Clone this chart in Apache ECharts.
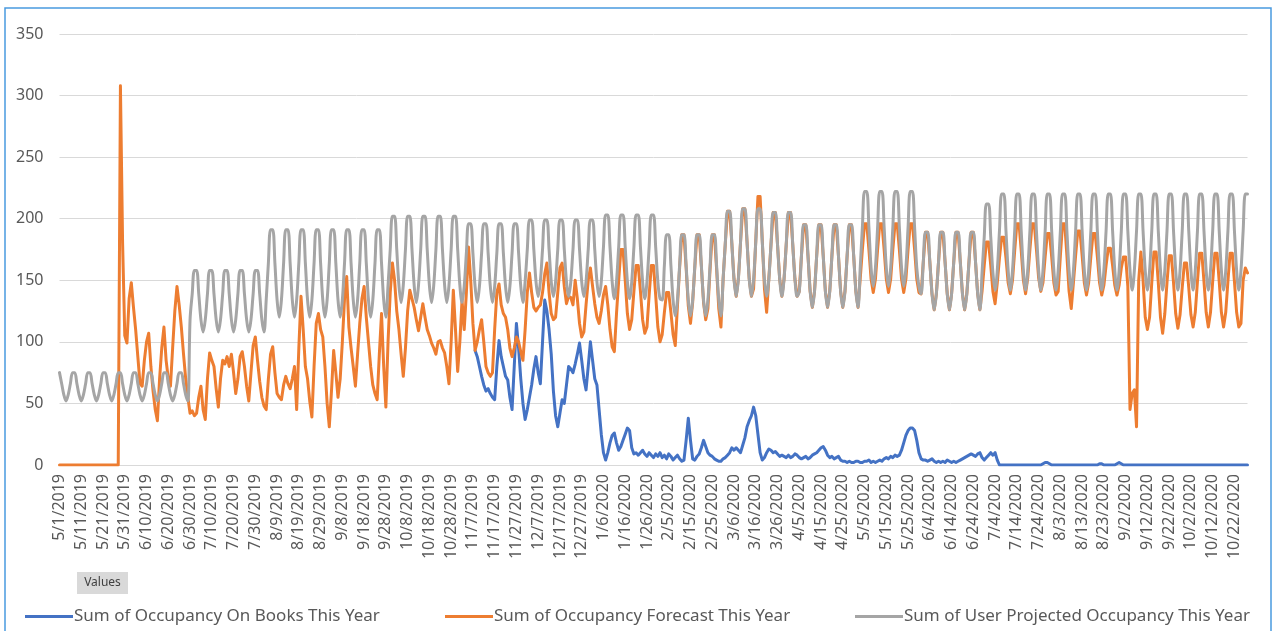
<!DOCTYPE html>
<html>
<head>
<meta charset="utf-8">
<script src="https://cdn.jsdelivr.net/npm/echarts@6/dist/echarts.min.js"></script>
<style>
  html, body { margin: 0; padding: 0; background: #fff; }
  #chart { width: 1276px; height: 631px; }
</style>
</head>
<body>
<div id="chart"></div>
<script>
// daily dates, 5/1/2019 .. 10/28/2020
const firstDay = '2019-05-01';
const dayCount = 547;

// Sum of Occupancy On Books This Year (starts 11/8/2019, index 191)
const booksStart = 191;
const onBooks = [
  93,88,80,72,65,60,62,58,55,53,
  80,101,88,80,72,69,55,45,80,115,
  95,70,50,37,45,55,65,78,88,75,
  66,100,134,125,110,90,60,40,31,42,
  53,50,65,80,78,75,82,90,99,85,
  70,61,80,100,85,70,65,45,25,10,
  4,10,18,24,26,18,12,15,20,25,
  30,28,14,9,10,8,10,12,9,7,
  10,8,6,9,7,10,6,8,5,9,
  7,4,6,8,5,3,4,20,38,20,
  5,4,7,9,14,20,15,10,8,7,
  5,4,3,3,5,6,8,10,14,12,
  14,12,10,16,22,31,36,40,47,40,
  25,10,4,6,10,13,12,10,11,9,
  7,8,7,6,8,6,7,9,8,6,
  5,6,7,5,6,8,9,10,12,14,
  15,12,8,6,7,5,6,7,4,3,
  3,2,3,2,2,3,3,2,2,3,
  3,4,2,3,2,3,4,3,5,6,
  5,7,6,8,7,8,12,18,24,28,
  30,30,28,20,10,5,4,4,3,4,
  5,3,2,3,2,3,2,4,3,2,
  3,2,3,4,5,6,7,8,9,8,
  7,9,10,6,4,6,8,10,8,10,
  4,0,
  0,0,0,0,0,0,0,0,0,0,
  0,0,0,0,0,0,0,0,0,1,
  2,2,1,0,0,0,0,0,0,0,
  0,0,0,0,0,0,0,0,0,0,
  0,0,0,0,0,1,1,0,0,0,
  0,0,0,1,2,1,0,0,0,0,
  0,0,0,0,0,0,0,0,0,0,
  0,0,0,0,0,0,0,0,0,0,
  0,0,0,0,0,0,0,0,0,0,
  0,0,0,0,0,0,0,0,0,0,
  0,0,0,0,0,0,0,0,0,0,
  0,0,0,0
];

// Sum of Occupancy Forecast This Year
const forecast = [
  0,0,0,0,0,0,0,0,0,0,0,0,0,0,0,0,0,0,0,0,0,0,0,0,0,0,0,0,
  308,180,105,99,135,148,128,110,88,66,64,85,
  100,107,80,60,45,36,70,95,112,85,70,64,95,125,145,130,112,90,70,55,
  42,44,40,42,55,64,45,37,70,91,85,80,62,47,70,85,82,88,80,90,
  75,58,70,88,92,80,64,52,75,97,104,85,68,55,48,45,70,90,96,75,
  58,55,53,65,72,66,62,70,80,45,95,137,110,80,70,52,39,80,115,123,
  110,104,80,50,31,60,93,75,55,70,100,135,153,112,95,80,64,90,115,135,
  145,120,100,80,65,58,53,90,123,80,47,100,140,164,150,125,110,90,72,95,
  125,142,135,128,118,109,120,131,120,110,105,99,95,90,100,101,95,91,80,66,
  100,142,110,76,100,134,110,140,177,150,115,93,100,110,118,100,80,75,72,75,
  110,140,147,130,123,120,110,95,88,95,104,100,92,85,110,140,156,140,128,125,
  128,130,140,155,164,140,123,118,120,140,160,164,145,131,137,136,130,150,135,115,
  104,108,130,150,160,145,131,120,115,125,138,145,130,110,96,92,
  123,150,175,175,150,123,110,
  118,141,162,162,141,118,107,
  112,138,162,162,138,112,100,
  106,124,140,140,124,106,97,
  129,160,187,187,160,129,115,
  132,161,187,187,161,132,118,
  127,159,187,187,159,127,112,
  151,180,206,206,180,151,137,
  151,181,208,208,181,151,137,
  143,182,218,218,182,143,124,
  151,179,205,205,179,151,137,
  151,179,205,205,179,151,137,
  141,170,195,195,170,141,128,
  141,170,195,195,170,141,128,
  141,170,195,195,170,141,128,
  141,170,195,195,170,141,128,
  151,175,196,196,175,151,140,
  151,175,196,196,175,151,140,
  151,175,196,196,175,151,140,
  151,175,196,196,175,151,140,
  139,165,189,189,165,139,126,
  139,165,189,189,165,139,126,
  139,165,189,189,165,139,126,
  139,165,189,189,165,139,126,
  141,162,181,181,162,141,131,
  148,168,185,185,168,148,139,
  150,174,196,196,174,150,139,
  152,175,196,196,175,152,141,
  148,169,188,188,169,148,138,
  141,170,196,196,170,141,127,
  148,170,190,190,170,148,138,
  148,169,188,188,169,148,138,
  146,162,176,176,162,146,138,
  146,160,169,169,145,45,58,
  61,31,150,173,150,120,110,
  120,148,173,173,148,120,107,
  123,148,170,170,148,123,111,
  122,144,164,164,144,122,112,
  124,149,172,172,149,124,112,
  124,149,172,172,149,124,112,
  124,149,172,172,149,124,112,
  115,150,160,156
];

// Sum of User Projected Occupancy This Year
const projected = [
  75,66,57,52,
  57,66,75,75,66,57,52,
  57,66,75,75,66,57,52,
  57,66,75,75,66,57,52,
  57,66,75,75,66,57,52,
  57,66,75,75,66,57,52,
  57,66,75,75,66,57,52,
  57,66,75,75,66,57,52,
  57,66,75,75,66,57,52,
  118,139,158,158,139,118,108,
  118,139,158,158,139,118,108,
  118,139,158,158,139,118,108,
  118,139,158,158,139,118,108,
  118,139,158,158,139,118,108,
  134,164,191,191,164,134,120,
  134,164,191,191,164,134,120,
  134,164,191,191,164,134,120,
  134,164,191,191,164,134,120,
  134,164,191,191,164,134,120,
  134,164,191,191,164,134,120,
  134,164,191,191,164,134,120,
  134,164,191,191,164,134,120,
  146,175,202,202,175,146,132,
  146,175,202,202,175,146,132,
  146,175,202,202,175,146,132,
  146,175,202,202,175,146,132,
  146,175,202,202,175,146,132,
  145,172,196,196,172,145,132,
  145,172,196,196,172,145,132,
  145,172,196,196,172,145,132,
  145,172,196,196,172,145,132,
  149,175,199,199,175,149,137,
  149,175,199,199,175,149,137,
  149,175,199,199,175,149,137,
  149,175,199,199,175,149,137,
  149,175,199,199,175,149,137,
  149,177,203,203,177,149,135,
  149,177,203,203,177,149,135,
  149,177,203,203,177,149,135,
  149,177,203,203,177,149,135,
  134,162,187,187,162,134,121,
  134,162,187,187,162,134,121,
  134,162,187,187,162,134,121,
  134,162,187,187,162,134,121,
  151,180,206,206,180,151,137,
  151,181,208,208,181,151,137,
  151,181,208,208,181,151,137,
  151,179,205,205,179,151,137,
  151,179,205,205,179,151,137,
  141,170,195,195,170,141,128,
  141,170,195,195,170,141,128,
  141,170,195,195,170,141,128,
  141,170,195,195,170,141,128,
  160,193,222,222,193,160,145,
  160,193,222,222,193,160,145,
  160,193,222,222,193,160,145,
  160,193,222,222,193,160,145,
  139,165,189,189,165,139,126,
  139,165,189,189,165,139,126,
  139,165,189,189,165,139,126,
  139,165,189,189,165,139,126,
  156,185,212,212,185,156,142,
  158,190,220,220,190,158,142,
  158,190,220,220,190,158,142,
  158,190,220,220,190,158,142,
  158,190,220,220,190,158,142,
  158,190,220,220,190,158,142,
  158,190,220,220,190,158,142,
  158,190,220,220,190,158,142,
  158,190,220,220,190,158,142,
  158,190,220,220,190,158,142,
  158,190,220,220,190,158,142,
  158,190,220,220,190,158,142,
  158,190,220,220,190,158,142,
  158,190,220,220,190,158,142,
  158,190,220,220,190,158,142,
  158,190,220,220,190,158,142,
  158,190,220,220,190,158,142,
  158,190,220,220
];

const seriesNames = [
  'Sum of Occupancy On Books This Year',
  'Sum of Occupancy Forecast This Year',
  'Sum of User Projected Occupancy This Year'
];
const seriesColors = ['#4472c4', '#ed7d31', '#a5a5a5'];

// M/D/YYYY labels
const dates = [];
const d0 = new Date(firstDay + 'T00:00:00');
for (let i = 0; i < dayCount; i++) {
  const d = new Date(d0.getFullYear(), d0.getMonth(), d0.getDate() + i);
  dates.push((d.getMonth() + 1) + '/' + d.getDate() + '/' + d.getFullYear());
}

const booksData = new Array(booksStart).fill(null).concat(onBooks);
const seriesData = [booksData, forecast, projected];

const chart = echarts.init(document.getElementById('chart'));
const font = 'Noto Sans';

chart.setOption({
  animation: false,
  grid: {left: 59.5, top: 34, width: 1188, height: 431, containLabel: false},
  xAxis: {
    type: 'category',
    data: dates,
    boundaryGap: false,
    axisLine: {show: true, lineStyle: {color: '#d9d9d9', width: 1}},
    axisTick: {show: false},
    axisLabel: {
      interval: 9,
      rotate: 90,
      margin: 9,
      color: '#595959',
      fontFamily: font,
      fontSize: 16
    },
    splitLine: {show: false}
  },
  yAxis: {
    type: 'value',
    min: 0,
    max: 350,
    interval: 50,
    axisLine: {show: false},
    axisTick: {show: false},
    axisLabel: {color: '#595959', fontFamily: font, fontSize: 16, margin: 16},
    splitLine: {lineStyle: {color: '#d9d9d9', width: 1}}
  },
  legend: [0, 1, 2].map(i => ({
    data: [seriesNames[i]],
    left: [20, 440, 850][i],
    top: 603,
    icon: 'rect',
    itemWidth: 48,
    itemHeight: 3,
    itemGap: 0,
    textStyle: {color: '#595959', fontFamily: font, fontSize: 17, padding: [0, 0, 0, -4]}
  })),
  graphic: [
    {
      type: 'rect',
      shape: {x: 5, y: 8, width: 1266, height: 650},
      style: {fill: 'none', stroke: '#4a9ae0', lineWidth: 1.5},
      silent: true
    },
    {
      type: 'rect',
      shape: {x: 77, y: 572, width: 51, height: 22},
      style: {fill: '#d9d9d9'},
      silent: true
    },
    {
      type: 'text',
      x: 102.5,
      y: 583,
      style: {text: 'Values', fill: '#404040', font: '12px "Noto Sans"', align: 'center', verticalAlign: 'middle'},
      silent: true
    }
  ],
  series: seriesData.map((data, i) => ({
    name: seriesNames[i],
    type: 'line',
    data: data,
    symbol: 'none',
    connectNulls: false,
    smooth: i === 2 ? 0.35 : false,
    color: seriesColors[i],
    lineStyle: {color: seriesColors[i], width: 3, cap: 'round', join: 'round'},
    z: 2 + i
  }))
});
</script>
</body>
</html>
